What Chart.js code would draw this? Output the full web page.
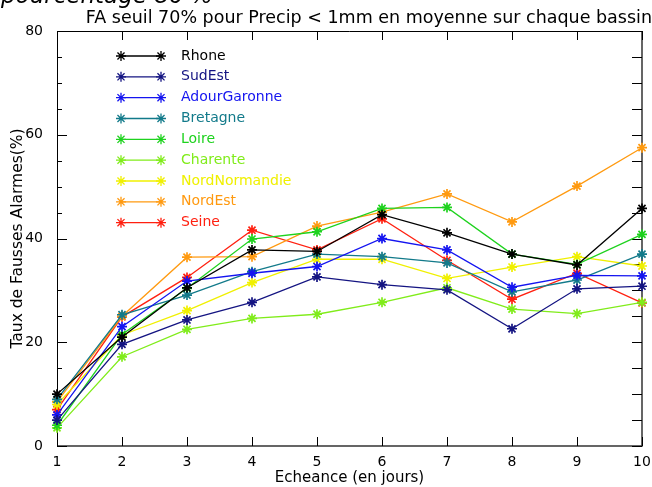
<!DOCTYPE html>
<html>
<head>
<meta charset="utf-8">
<script src="https://cdn.jsdelivr.net/npm/chart.js@4.4.1/dist/chart.umd.min.js"></script>
<style>
  body { margin: 0; background: #fff; }
  #wrap { position: relative; width: 652px; height: 487px; overflow: hidden; }
  #topText { position: absolute; left: 1px; top: -18px; font: italic 23px "DejaVu Sans"; color: #000; white-space: nowrap; }
</style>
</head>
<body>
<div id="wrap">
  <canvas id="faChart"></canvas>
  <div id="topText">pourcentage 80 %</div>
</div>
<script>
const days = [1, 2, 3, 4, 5, 6, 7, 8, 9, 10];
const yTicks = [0, 20, 40, 60, 80];

const bassins = ['Rhone', 'SudEst', 'AdourGaronne', 'Bretagne', 'Loire', 'Charente', 'NordNormandie', 'NordEst', 'Seine'];
const couleurs = ['#000000', '#141482', '#1414f0', '#127a8a', '#1ed21e', '#80ec1a', '#f0f000', '#ff9a10', '#ff2010'];

const rhone = [10, 21, 30.5, 37.8, 37.5, 44.6, 41.1, 37, 34.9, 45.8];
const sudEst = [5, 19.6, 24.3, 27.7, 32.6, 31.1, 30.1, 22.6, 30.3, 30.8];
const adourGaronne = [6, 23, 31.8, 33.3, 34.6, 40.0, 37.8, 30.6, 32.9, 32.8];
const bretagne = [9, 25.3, 29.1, 33.6, 37, 36.5, 35.3, 29.7, 32.0, 37.0];
const loire = [4, 21.5, 30.4, 39.9, 41.3, 45.8, 46.0, 37.0, 35.0, 40.8];
const charente = [3.5, 17.2, 22.5, 24.6, 25.4, 27.7, 30.5, 26.4, 25.5, 27.7];
const nordNormandie = [8, 21.4, 26.1, 31.5, 36.0, 36.0, 32.3, 34.5, 36.5, 34.7];
const nordEst = [8.5, 25, 36.4, 36.5, 42.4, 45.1, 48.6, 43.2, 50.1, 57.5];
const seine = [7, 24.9, 32.5, 41.6, 37.8, 43.8, 35.8, 28.3, 33.3, 27.6];

const series = [rhone, sudEst, adourGaronne, bretagne, loire, charente, nordNormandie, nordEst, seine];

const police = 'DejaVu Sans';

// box + inward ticks like the IDL plot
const cadre = {
    id: 'cadre',
    beforeDatasetsDraw(chart) {
        const { ctx, chartArea: a, scales: { x, y } } = chart;
        ctx.save();
        ctx.strokeStyle = '#000';
        ctx.lineWidth = 1;
        ctx.beginPath();
        ctx.moveTo(a.left + 0.5, a.bottom);
        ctx.lineTo(a.left + 0.5, a.top + 0.5);
        ctx.lineTo(a.right, a.top + 0.5);
        ctx.stroke();
        ctx.strokeStyle = '#333';
        ctx.lineWidth = 1.5;
        ctx.beginPath();
        ctx.moveTo(a.left, a.bottom);
        ctx.lineTo(a.right, a.bottom);
        ctx.lineTo(a.right, a.top);
        ctx.stroke();

        ctx.strokeStyle = '#000';
        ctx.lineWidth = 1;
        ctx.beginPath();
        days.forEach((d, i) => {
            const px = Math.round(x.getPixelForTick(i)) + 0.5;
            ctx.moveTo(px, a.top);
            ctx.lineTo(px, a.top + 9);
            ctx.moveTo(px, a.bottom);
            ctx.lineTo(px, a.bottom - 9);
        });
        for (let v = 0; v <= 80; v += 5) {
            const py = Math.round(y.getPixelForValue(v)) + 0.5;
            const len = v % 20 === 0 ? 10 : 5;
            ctx.moveTo(a.left, py);
            ctx.lineTo(a.left + len, py);
            ctx.moveTo(a.right, py);
            ctx.lineTo(a.right - 10, py);
        }
        ctx.stroke();
        ctx.restore();
    }
};

const legende = {
    id: 'legende',
    afterDraw(chart) {
        const ctx = chart.ctx;
        ctx.save();
        ctx.font = '14px "' + police + '"';
        ctx.textBaseline = 'middle';
        ctx.textAlign = 'left';
        chart.data.datasets.forEach((ds, i) => {
            const yy = 56 + i * 20.83;
            ctx.strokeStyle = ds.borderColor;
            ctx.lineWidth = 1.3;
            ctx.beginPath();
            ctx.moveTo(121, yy);
            ctx.lineTo(161, yy);
            ctx.stroke();
            [121, 161].forEach(xx => {
                Chart.helpers.drawPoint(ctx, { pointStyle: 'star', radius: 5, rotation: 0, borderWidth: 1.7 }, xx, yy);
            });
            ctx.fillStyle = ds.borderColor;
            ctx.fillText(ds.label, 181, yy);
        });
        ctx.restore();
    }
};

const ctx = document.getElementById('faChart').getContext('2d');
const chart = new Chart(ctx, {
    type: 'line',
    data: {
        labels: days,
        datasets: bassins.map((nom, i) => ({
            label: nom,
            data: series[i],
            borderColor: couleurs[i],
            backgroundColor: couleurs[i],
            borderWidth: 1.3,
            pointStyle: 'star',
            pointRadius: 5,
            pointBorderWidth: 1.7,
            fill: false,
            tension: 0,
            clip: false
        }))
    },
    options: {
        responsive: true,
        maintainAspectRatio: false,
        animation: false,
        devicePixelRatio: 1,
        layout: { padding: 0 },
        plugins: {
            legend: { display: false },
            tooltip: { enabled: false },
            title: {
                display: true,
                text: 'FA seuil 70% pour Precip < 1mm en moyenne sur chaque bassin',
                align: 'end',
                color: '#000',
                font: { family: police, size: 17.5, weight: 'normal' },
                padding: { top: 8, bottom: 2 }
            }
        },
        scales: {
            x: {
                type: 'category',
                offset: false,
                grid: { display: false },
                border: { display: false },
                ticks: { color: '#000', font: { family: police, size: 14 }, padding: 0, maxRotation: 0, autoSkip: false },
                title: { display: true, text: 'Echeance (en jours)', color: '#000', font: { family: police, size: 15 }, padding: { top: 0, bottom: 0 } },
                afterFit(s) { s.height = 41; s.paddingLeft = 0; s.paddingRight = 10; }
            },
            y: {
                min: 0,
                max: 80,
                grid: { display: false },
                border: { display: false },
                afterBuildTicks(s) { s.ticks = yTicks.map(v => ({ value: v })); },
                ticks: { color: '#000', font: { family: police, size: 14 }, padding: 6 },
                title: { display: true, text: 'Taux de Fausses Alarmes(%)', color: '#000', font: { family: police, size: 15.5 }, padding: { top: 9, bottom: 0 } },
                afterFit(s) { s.width = 57; }
            }
        }
    },
    plugins: [cadre, legende]
});
</script>
</body>
</html>
